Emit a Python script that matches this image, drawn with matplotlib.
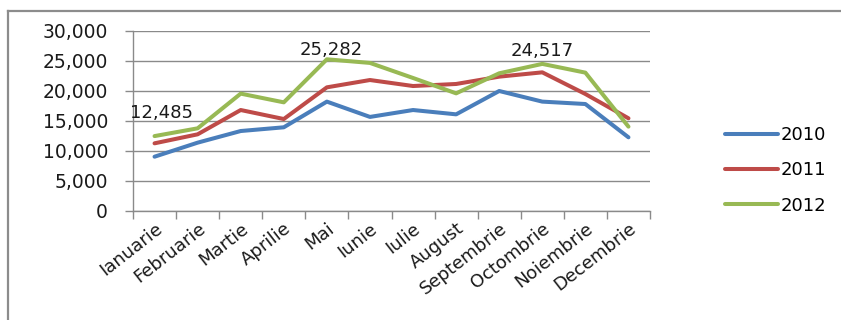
import matplotlib
matplotlib.use("Agg")
import matplotlib.pyplot as plt
from matplotlib.lines import Line2D

months = ["Ianuarie", "Februarie", "Martie", "Aprilie", "Mai", "Iunie", "Iulie",
          "August", "Septembrie", "Octombrie", "Noiembrie", "Decembrie"]
s2010 = [9050, 11390, 13330, 13950, 18230, 15680, 16830, 16110, 20000, 18230, 17830, 12280]
s2011 = [11280, 12780, 16830, 15330, 20610, 21830, 20830, 21170, 22390, 23110, 19500, 15450]
s2012 = [12485, 13780, 19560, 18110, 25282, 24680, 22170, 19610, 22950, 24517, 23060, 14060]
series_names = ["2010", "2011", "2012"]
colors = ["#4A7EBB", "#BE4B48", "#98B954"]
labeled_idx = [0, 4, 9]
label_offsets = [(5, 10), (3, 0), (0, 3)]  # in points

plt.rcParams['font.family'] = ['DejaVu Sans']
W, H = 841, 320
fig = plt.figure(figsize=(W / 100, H / 100), dpi=100)
fig.patch.set_facecolor("white")

# outer chart border (left and top visible)
fig.add_artist(Line2D([8 / W, 8 / W], [0, 1 - 11 / H], transform=fig.transFigure,
                      color="#8c8c8c", lw=1.6))
fig.add_artist(Line2D([8 / W, 1.01], [1 - 11 / H, 1 - 11 / H], transform=fig.transFigure,
                      color="#8c8c8c", lw=1.6))

ax = fig.add_axes([133 / W, 1 - 211 / H, (650 - 133) / W, (211 - 31) / H])
x = list(range(len(months)))
for vals, name, c in zip([s2010, s2011, s2012], series_names, colors):
    ax.plot(x, vals, color=c, lw=2.9, label=name, solid_capstyle="round", zorder=3)

for i, (dx, dy) in zip(labeled_idx, label_offsets):
    ax.annotate(f"{s2012[i]:,}", (x[i], s2012[i]), xytext=(dx, dy), textcoords="offset points",
                ha="center", va="bottom", fontsize=13, color="#1a1a1a")

ax.set_xlim(-0.5, 11.5)
ax.set_ylim(0, 30000)
ax.set_yticks(range(0, 30001, 5000))
ax.set_yticklabels([f"{v:,}" for v in range(0, 30001, 5000)], fontsize=13.5, color="#1a1a1a")
ax.yaxis.grid(True, color="#8a8a8a", lw=1)
ax.set_axisbelow(True)
ax.set_xticks([i + 0.5 for i in range(-1, 12)], minor=False)
ax.set_xticklabels([])
ax.set_xticks(x, minor=True)
ax.set_xticklabels(months, minor=True, rotation=38, ha="right", va="top",
                   rotation_mode="anchor", fontsize=13, color="#1a1a1a")
ax.tick_params(axis="x", which="minor", length=0, pad=6)
ax.tick_params(axis="x", which="major", length=6, color="#8a8a8a", width=1)
ax.tick_params(axis="y", length=6, color="#8a8a8a", width=1, pad=12)
for side in ["top", "right"]:
    ax.spines[side].set_visible(False)
for side in ["left", "bottom"]:
    ax.spines[side].set_color("#8a8a8a")
    ax.spines[side].set_linewidth(1)

leg = fig.legend(handles=ax.get_lines(), labels=series_names, loc="upper left",
                 bbox_to_anchor=(709 / W, 1 - 110 / H), frameon=False, fontsize=13,
                 handlelength=2.9, handletextpad=0.15, labelspacing=0.95)

fig.savefig("out.png", dpi=100, facecolor="white")
